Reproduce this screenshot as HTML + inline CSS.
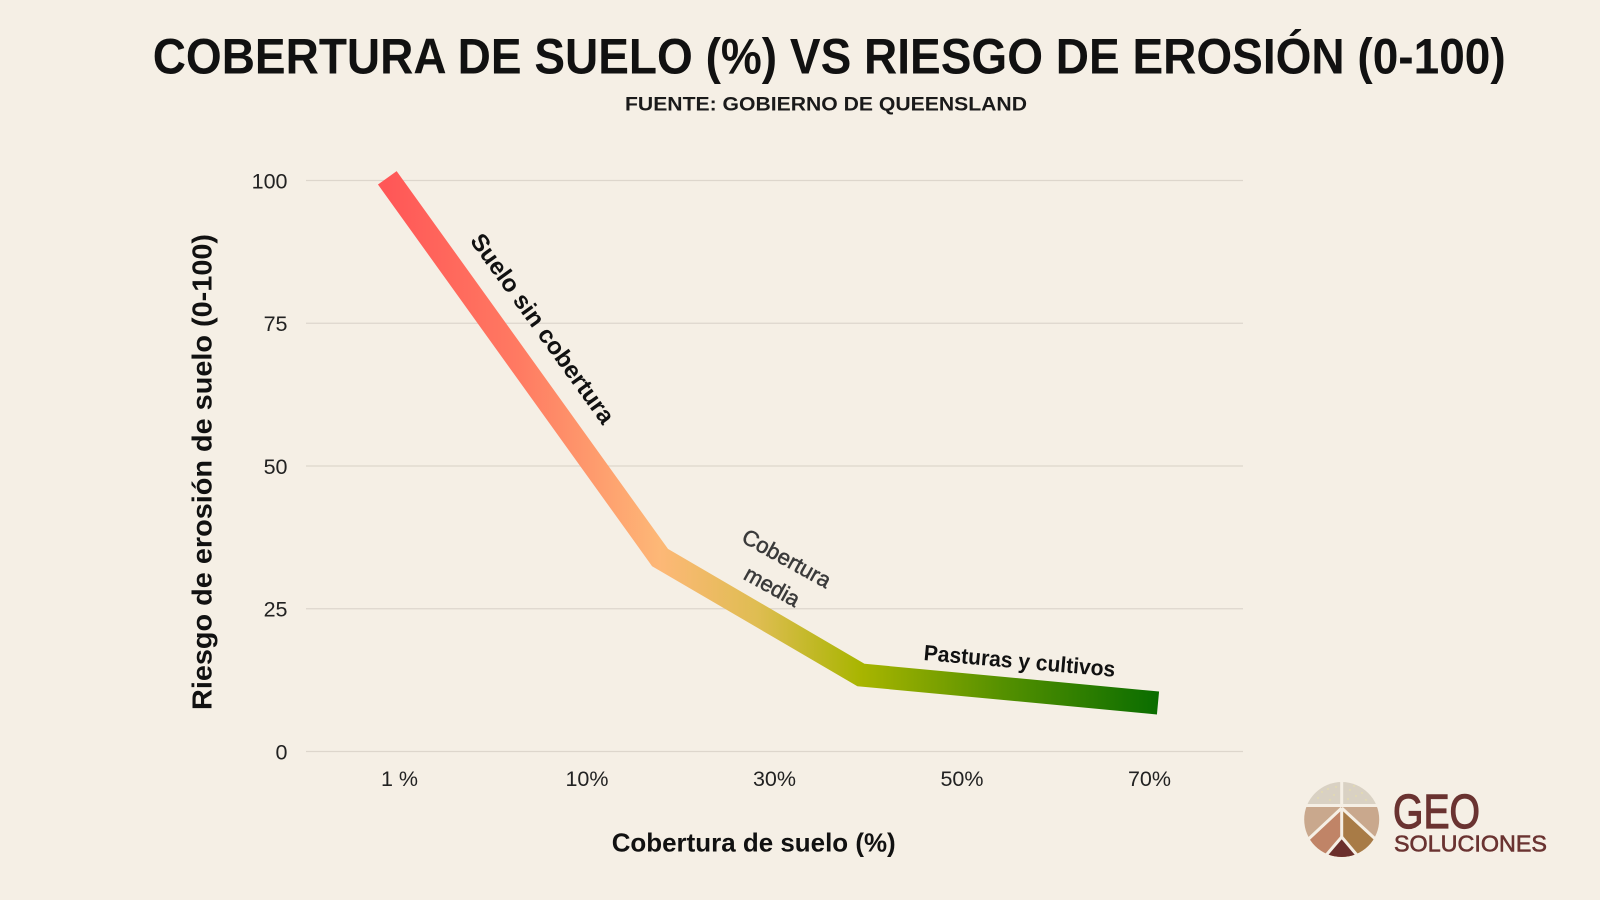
<!DOCTYPE html>
<html>
<head>
<meta charset="utf-8">
<style>
  html, body { margin: 0; padding: 0; background: #f5efe5; }
  svg { display: block; }
  text { font-family: "Liberation Sans", "DejaVu Sans", sans-serif; }
</style>
</head>
<body>
<svg width="1600" height="900" viewBox="0 0 1600 900" xmlns="http://www.w3.org/2000/svg">
  <defs>
    <linearGradient id="lg" gradientUnits="userSpaceOnUse" x1="387" y1="0" x2="1158" y2="0">
      <stop offset="0" stop-color="#ff5757"/>
      <stop offset="0.17" stop-color="#ff7a62"/>
      <stop offset="0.354" stop-color="#fdb877"/>
      <stop offset="0.48" stop-color="#dfbd52"/>
      <stop offset="0.615" stop-color="#a8b500"/>
      <stop offset="0.8" stop-color="#549000"/>
      <stop offset="1" stop-color="#0a6d00"/>
    </linearGradient>
    <clipPath id="logoClip">
      <circle cx="1341.7" cy="819.5" r="37.5"/>
    </clipPath>
  </defs>

  <rect x="0" y="0" width="1600" height="900" fill="#f5efe5"/>

  <!-- Title -->
  <text x="152.7" y="73.4" font-size="50" font-weight="bold" fill="#111" textLength="1353" lengthAdjust="spacingAndGlyphs">COBERTURA DE SUELO (%) VS RIESGO DE EROSIÓN (0-100)</text>
  <text x="625" y="110.7" font-size="19.5" font-weight="bold" fill="#1a1a1a" textLength="402" lengthAdjust="spacingAndGlyphs">FUENTE: GOBIERNO DE QUEENSLAND</text>

  <!-- Gridlines -->
  <g stroke="#ddd6cc" stroke-width="1.2">
    <line x1="306" y1="180.5" x2="1243" y2="180.5"/>
    <line x1="306" y1="323.25" x2="1243" y2="323.25"/>
    <line x1="306" y1="466" x2="1243" y2="466"/>
    <line x1="306" y1="608.75" x2="1243" y2="608.75"/>
    <line x1="306" y1="751.5" x2="1243" y2="751.5"/>
  </g>

  <!-- Y tick labels -->
  <g font-size="21.5" fill="#222" text-anchor="end">
    <text x="287.5" y="188.3">100</text>
    <text x="287.5" y="331">75</text>
    <text x="287.5" y="473.8">50</text>
    <text x="287.5" y="616.5">25</text>
    <text x="287.5" y="759.3">0</text>
  </g>

  <!-- X tick labels -->
  <g font-size="21.5" fill="#222" text-anchor="middle">
    <text x="399.5" y="786">1 %</text>
    <text x="587" y="786">10%</text>
    <text x="774.5" y="786">30%</text>
    <text x="962" y="786">50%</text>
    <text x="1149.5" y="786">70%</text>
  </g>

  <!-- Axis titles -->
  <text x="611.7" y="851.7" font-size="26" font-weight="bold" fill="#111" textLength="284" lengthAdjust="spacingAndGlyphs">Cobertura de suelo (%)</text>
  <text transform="translate(211.5,710) rotate(-90)" x="0" y="0" font-size="28" font-weight="bold" fill="#111" textLength="476" lengthAdjust="spacingAndGlyphs">Riesgo de erosión de suelo (0-100)</text>

  <!-- Series line -->
  <polyline points="387.3,177.8 660,557.5 861,675 1158,703" fill="none" stroke="url(#lg)" stroke-width="23" stroke-linejoin="miter" stroke-linecap="butt" stroke-miterlimit="10"/>

  <!-- Line labels -->
  <text transform="translate(536,333.3) rotate(54.2)" x="0" y="0" text-anchor="middle" font-size="24" font-weight="bold" fill="#111" textLength="228" lengthAdjust="spacingAndGlyphs">Suelo sin cobertura</text>
  <text transform="translate(783,565) rotate(29)" x="0" y="0" text-anchor="middle" font-size="22" fill="#3a3a3a" stroke="#3a3a3a" stroke-width="0.5">Cobertura</text>
  <text transform="translate(768.5,593) rotate(29)" x="0" y="0" text-anchor="middle" font-size="22" fill="#3a3a3a" stroke="#3a3a3a" stroke-width="0.5">media</text>
  <text transform="translate(923.3,660) rotate(5)" x="0" y="0" font-size="22" font-weight="bold" fill="#111" textLength="192" lengthAdjust="spacingAndGlyphs">Pasturas y cultivos</text>

  <!-- Logo -->
  <g clip-path="url(#logoClip)">
    <rect x="1300" y="780" width="85" height="26" fill="#d9d1c3"/>
    <rect x="1300" y="805" width="85" height="60" fill="#c9a88d"/>
    <polygon points="1341.7,808 1302,845 1302,862 1341.7,862" fill="#c08467"/>
    <polygon points="1341.7,808 1382,845 1382,862 1341.7,862" fill="#a87b46"/>
    <polygon points="1341.7,838 1318,866 1365,866" fill="#6b2f2c"/>
  </g>
  <g stroke="#f5efe5" stroke-width="3" fill="none">
    <line x1="1341.7" y1="778" x2="1341.7" y2="806"/>
    <line x1="1300" y1="805.5" x2="1384" y2="805.5"/>
    <line x1="1341.7" y1="808" x2="1300" y2="847"/>
    <line x1="1341.7" y1="808" x2="1384" y2="847"/>
    <line x1="1341.7" y1="808" x2="1341.7" y2="838"/>
    <line x1="1341.7" y1="837" x2="1316" y2="867"/>
    <line x1="1341.7" y1="837" x2="1367" y2="867"/>
  </g>
  <g fill="#ece3a0">
    <circle cx="1322" cy="792" r="0.7"/><circle cx="1328" cy="789" r="0.7"/><circle cx="1334" cy="795" r="0.7"/>
    <circle cx="1318" cy="798" r="0.7"/><circle cx="1330" cy="800" r="0.7"/><circle cx="1336" cy="787" r="0.7"/>
    <circle cx="1350" cy="790" r="0.7"/><circle cx="1356" cy="796" r="0.7"/><circle cx="1362" cy="793" r="0.7"/>
    <circle cx="1348" cy="799" r="0.7"/><circle cx="1366" cy="800" r="0.7"/><circle cx="1354" cy="786" r="0.7"/>
  </g>
  <text x="1393" y="828" font-size="48" fill="#6a3331" stroke="#6a3331" stroke-width="1.2" textLength="87" lengthAdjust="spacingAndGlyphs">GEO</text>
  <text x="1394" y="851.7" font-size="23" fill="#6a3331" stroke="#6a3331" stroke-width="0.6" textLength="153" lengthAdjust="spacingAndGlyphs">SOLUCIONES</text>
</svg>
</body>
</html>
